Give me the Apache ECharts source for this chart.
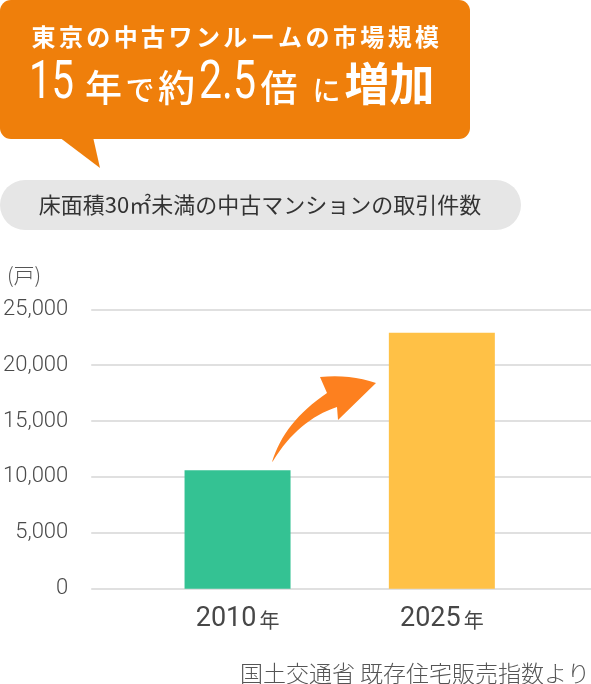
<!DOCTYPE html>
<html><head><meta charset="utf-8">
<script src="https://cdn.jsdelivr.net/npm/echarts@6/dist/echarts.min.js"></script>
<style>html,body{margin:0;padding:0;background:#fff}#c{width:591px;height:684px}</style>
</head><body><div id="c"></div>
<script>
const categories = ['2010', '2025'];
const values = [10600, 22900];
const barColors = ['#34c293', '#ffc146'];
const yTicks = [0, 5000, 10000, 15000, 20000, 25000];
const titleLine1 = '東京の中古ワンルームの市場規模';
const subtitle = '床面積30㎡未満の中古マンションの取引件数';
const yUnit = '(戸)';
const yearSuffix = '年';
const source = '国土交通省 既存住宅販売指数より';

const CJK = '"Noto Sans CJK JP"';
const chart = echarts.init(document.getElementById('c'), null, {renderer: 'canvas'});

function quad(p0, c, p1, n) {
  const pts = [];
  for (let i = 0; i <= n; i++) {
    const t = i / n, u = 1 - t;
    pts.push([u * u * p0[0] + 2 * u * t * c[0] + t * t * p1[0], u * u * p0[1] + 2 * u * t * c[1] + t * t * p1[1]]);
  }
  return pts;
}

const graphics = [];
// banner
graphics.push({type: 'rect', shape: {x: 0, y: 0, width: 470, height: 139, r: 11}, style: {fill: '#ef7f0b'}, z: 1});
graphics.push({type: 'polygon', shape: {points: [[59, 137], [93, 137], [100, 168]]}, style: {fill: '#ef7f0b'}, z: 1});
// title line 1 with letter spacing
Array.from(titleLine1).forEach((c, i) => {
  graphics.push({type: 'text', x: 43.5 + i * 27.4, y: 37, z: 2,
    style: {text: c, fill: '#fff', font: 'bold 24px ' + CJK, align: 'center', verticalAlign: 'middle'}});
});
// title line 2
const line2 = [
  {t: '15', cx: 51.5, cy: 84, font: 'normal 54px Roboto', sx: 0.74},
  {t: '年', cx: 103.5, cy: 88, font: '500 37px ' + CJK},
  {t: 'で', cx: 140, cy: 90, font: '500 29px ' + CJK},
  {t: '約', cx: 176.5, cy: 88, font: '500 37px ' + CJK},
  {t: '2.5', cx: 227.5, cy: 84, font: 'normal 54px Roboto', sx: 0.76},
  {t: '倍', cx: 279, cy: 88, font: '500 37px ' + CJK},
  {t: 'に', cx: 326.5, cy: 90, font: '500 28px ' + CJK},
  {t: '増加', cx: 389.5, cy: 84, font: 'bold 45px ' + CJK}
];
line2.forEach(p => {
  graphics.push({type: 'text', x: p.cx, y: p.cy, scaleX: p.sx || 1, z: 2,
    style: {text: p.t, fill: '#fff', font: p.font, align: 'center', verticalAlign: 'middle'}});
});
// subtitle pill
graphics.push({type: 'rect', shape: {x: 0, y: 180, width: 521, height: 50, r: 25}, style: {fill: '#e6e6e6'}, z: 1});
graphics.push({type: 'text', x: 260, y: 205, z: 2,
  style: {text: subtitle, fill: '#333', font: '22px ' + CJK, align: 'center', verticalAlign: 'middle'}});
// arrow (decoration)
const arrowPts = [].concat(
  quad([272, 462], [284, 422], [327, 393], 16),
  quad([320, 377], [350, 374], [376, 383], 8),
  [[338, 420]],
  quad([337, 407], [298, 420], [273, 461], 16)
);
graphics.push({type: 'polygon', z: 5, shape: {points: arrowPts}, style: {fill: '#fd801f'}});
// source
graphics.push({type: 'text', x: 590, y: 673, z: 2,
  style: {text: source, fill: '#555', font: '300 23px ' + CJK, align: 'right', verticalAlign: 'middle'}});

const option = {
  animation: false,
  grid: [
    {left: 90, right: 0, top: 309.3, bottom: 95.3},
    {left: 135.4, right: 47, top: 309.3, bottom: 95.3}
  ],
  xAxis: [
    {gridIndex: 0, type: 'category', data: [''], show: false},
    {gridIndex: 1, type: 'category', data: categories,
      axisLine: {show: false}, axisTick: {show: false},
      axisLabel: {margin: 14, formatter: v => '{a|' + v + '}{b|' + yearSuffix + '}',
        rich: {a: {fontFamily: 'Roboto', fontSize: 27, color: '#474747', verticalAlign: 'bottom', lineHeight: 30},
               b: {fontFamily: CJK, fontSize: 20, color: '#474747', verticalAlign: 'bottom', lineHeight: 30, padding: [0, 0, 2, 3]}}}}
  ],
  yAxis: [
    {gridIndex: 0, type: 'value', min: yTicks[0], max: yTicks[yTicks.length - 1], interval: yTicks[1] - yTicks[0],
      name: yUnit, nameLocation: 'end', nameGap: 24,
      nameTextStyle: {fontFamily: CJK, fontSize: 21, fontWeight: 300, color: '#555', align: 'right', padding: [0, 50, 0, 0]},
      axisLine: {show: false}, axisTick: {show: false},
      axisLabel: {margin: 23, fontFamily: 'Roboto', fontSize: 22, fontWeight: 300, color: '#4a4a4a',
        formatter: v => v.toLocaleString('en-US')},
      splitLine: {lineStyle: {color: '#e0e0e0', width: 2}}},
    {gridIndex: 1, type: 'value', min: yTicks[0], max: yTicks[yTicks.length - 1], interval: yTicks[1] - yTicks[0], show: false, splitLine: {show: false}}
  ],
  series: [{
    type: 'bar', xAxisIndex: 1, yAxisIndex: 1, barWidth: 106,
    data: values.map((v, i) => ({value: v, itemStyle: {color: barColors[i]}}))
  }],
  graphic: graphics
};
chart.setOption(option);
</script></body></html>
